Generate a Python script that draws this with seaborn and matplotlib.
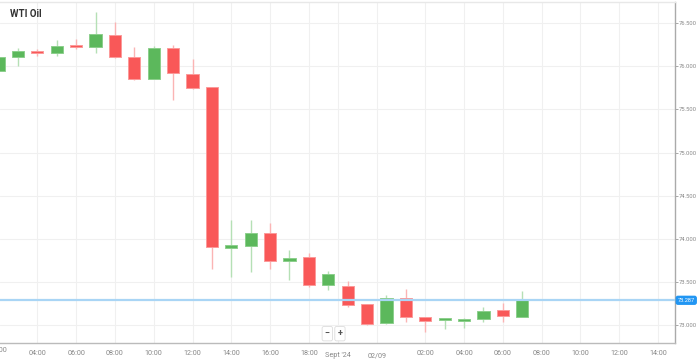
# WTI Oil hourly candles, drawn with seaborn styling + matplotlib patches

import matplotlib
matplotlib.use("Agg")
import matplotlib.pyplot as plt
import matplotlib.transforms as mtransforms
import seaborn as sns
import pandas as pd

sns.set_style("white")
plt.rcParams['font.family'] = ['Roboto', 'DejaVu Sans']

opens = [75.944, 76.106, 76.175, 76.149, 76.228, 76.218, 76.357, 76.109, 75.854, 76.206,
         75.912, 75.762, 73.896, 73.919, 74.070, 73.745, 73.785, 73.467, 73.455, 73.240,
         73.020, 73.316, 73.093, 73.064, 73.046, 73.070, 73.170, 73.096]
highs = [76.110, 76.214, 76.195, 76.303, 76.318, 76.624, 76.515, 76.225, 76.237, 76.248,
         76.086, 75.765, 74.217, 74.217, 74.186, 73.869, 73.838, 73.622, 73.506, 73.245,
         73.348, 73.417, 73.096, 73.073, 73.085, 73.205, 73.251, 73.394]
lows = [75.930, 76.002, 76.117, 76.117, 76.195, 76.156, 76.091, 75.839, 75.850, 75.605,
        75.740, 73.646, 73.560, 73.611, 73.652, 73.521, 73.437, 73.406, 73.212, 73.000,
        73.015, 73.038, 72.922, 72.954, 72.962, 73.031, 73.038, 73.090]
closes = [76.102, 76.179, 76.152, 76.237, 76.220, 76.369, 76.109, 75.847, 76.214, 75.917,
          75.743, 73.900, 73.930, 74.063, 73.745, 73.780, 73.460, 73.591, 73.228, 73.008,
          73.309, 73.089, 73.043, 73.070, 73.073, 73.166, 73.104, 73.287]

# x tick positions (candle index) and their labels
tick_pos = [2, 4, 6, 8, 10, 12, 14, 16, 22, 24, 26, 28, 30, 32, 34]
tick_labels = ["04:00", "06:00", "08:00", "10:00", "12:00", "14:00", "16:00", "18:00",
               "02:00", "04:00", "06:00", "08:00", "10:00", "12:00", "14:00"]
date_pos = [17.5, 19.5]
date_labels = ["Sept '24", "02/09"]

y_ticks = [73.0, 73.5, 74.0, 74.5, 75.0, 75.5, 76.0, 76.5]
last_price = 73.287

GREEN = "#5cb85c"
GREEN_EDGE = "#8dcf8d"
GREEN_WICK = "#b5e0b5"
RED = "#f95858"
RED_EDGE = "#fb9a9a"
RED_WICK = "#fbb4b4"


def plot():
    df = pd.DataFrame({"open": opens, "high": highs, "low": lows, "close": closes})
    df["idx"] = range(len(df))
    df["up"] = df["close"] >= df["open"]

    fig = plt.figure(figsize=(6.98, 3.61), dpi=100)
    ax = fig.add_axes([0.0, 0.0499, 0.967, 0.9446])

    # grid
    for y in y_ticks:
        ax.axhline(y, color="#f0f0f0", lw=0.8, zorder=0)
    for x in tick_pos + date_pos:
        ax.axvline(x, color="#f0f0f0", lw=0.8, zorder=0)

    width = 0.62
    for _, r in df.iterrows():
        body_c = GREEN if r["up"] else RED
        edge_c = GREEN_EDGE if r["up"] else RED_EDGE
        wick_c = GREEN_WICK if r["up"] else RED_WICK
        ax.vlines(r["idx"], r["low"], r["high"], color=wick_c, lw=1.0, zorder=2)
        bottom = min(r["open"], r["close"])
        height = max(abs(r["close"] - r["open"]), 0.022)
        ax.bar(r["idx"], height, bottom=bottom, width=width, color=body_c,
               edgecolor=edge_c, linewidth=0.7, zorder=3)

    # last price line
    ax.axhline(last_price, color="#a9d5f5", lw=1.6, zorder=4)

    ax.set_xlim(0.077, 34.87)
    ax.set_ylim(72.792, 76.745)

    ax.yaxis.tick_right()
    ax.set_yticks(y_ticks)
    ax.set_yticklabels([f"{v:.3f}" for v in y_ticks])
    ax.tick_params(axis="y", length=2, width=0.6, color="#999999", pad=1,
                   labelsize=4.2, labelcolor="#888888")
    ax.set_xticks(tick_pos)
    ax.set_xticklabels(tick_labels)
    ax.tick_params(axis="x", length=3, width=0.6, color="#bbbbbb", pad=2,
                   labelsize=5.2, labelcolor="#888888")

    ax.spines["left"].set_visible(False)
    ax.spines["top"].set_color("#e8e8e8")
    ax.spines["right"].set_color("#aaaaaa")
    ax.spines["bottom"].set_color("#bbbbbb")
    for s in ["top", "right", "bottom"]:
        ax.spines[s].set_linewidth(1.0)

    trans = mtransforms.blended_transform_factory(ax.transData, ax.transAxes)
    for x, lab in zip(date_pos, date_labels):
        ax.text(x, -0.037, lab, transform=trans, ha="center", va="center",
                fontsize=5.2, color="#888888")
    # first tick label sits half outside the picture, as in the source
    ax.text(0.0, -0.022, "02:00", transform=trans, ha="center", va="center",
            fontsize=5.2, color="#888888", clip_on=False)

    # last price tag on the axis
    ax.text(1.004, last_price, f"{last_price:.3f}",
            transform=mtransforms.blended_transform_factory(ax.transAxes, ax.transData),
            ha="left", va="center", fontsize=4.1, color="white", clip_on=False,
            bbox=dict(boxstyle="round,pad=0.25,rounding_size=0.3", fc="#2196f3", ec="#2196f3"))

    # title
    ax.text(0.015, 0.965, "WTI Oil", transform=ax.transAxes, ha="left", va="center",
            fontsize=7, fontweight="bold", color="#333333")

    # zoom buttons
    for x, sym in [(16.95, "\u2212"), (17.6, "+")]:
        ax.text(x, 72.90, sym, ha="center", va="center", fontsize=6.5, color="#555555",
                fontweight="bold", zorder=6,
                bbox=dict(boxstyle="round,pad=0.3,rounding_size=0.2", fc="white", ec="#dddddd", lw=0.6))

    fig.savefig("out.png", dpi=100)


if __name__ == "__main__":
    plot()
